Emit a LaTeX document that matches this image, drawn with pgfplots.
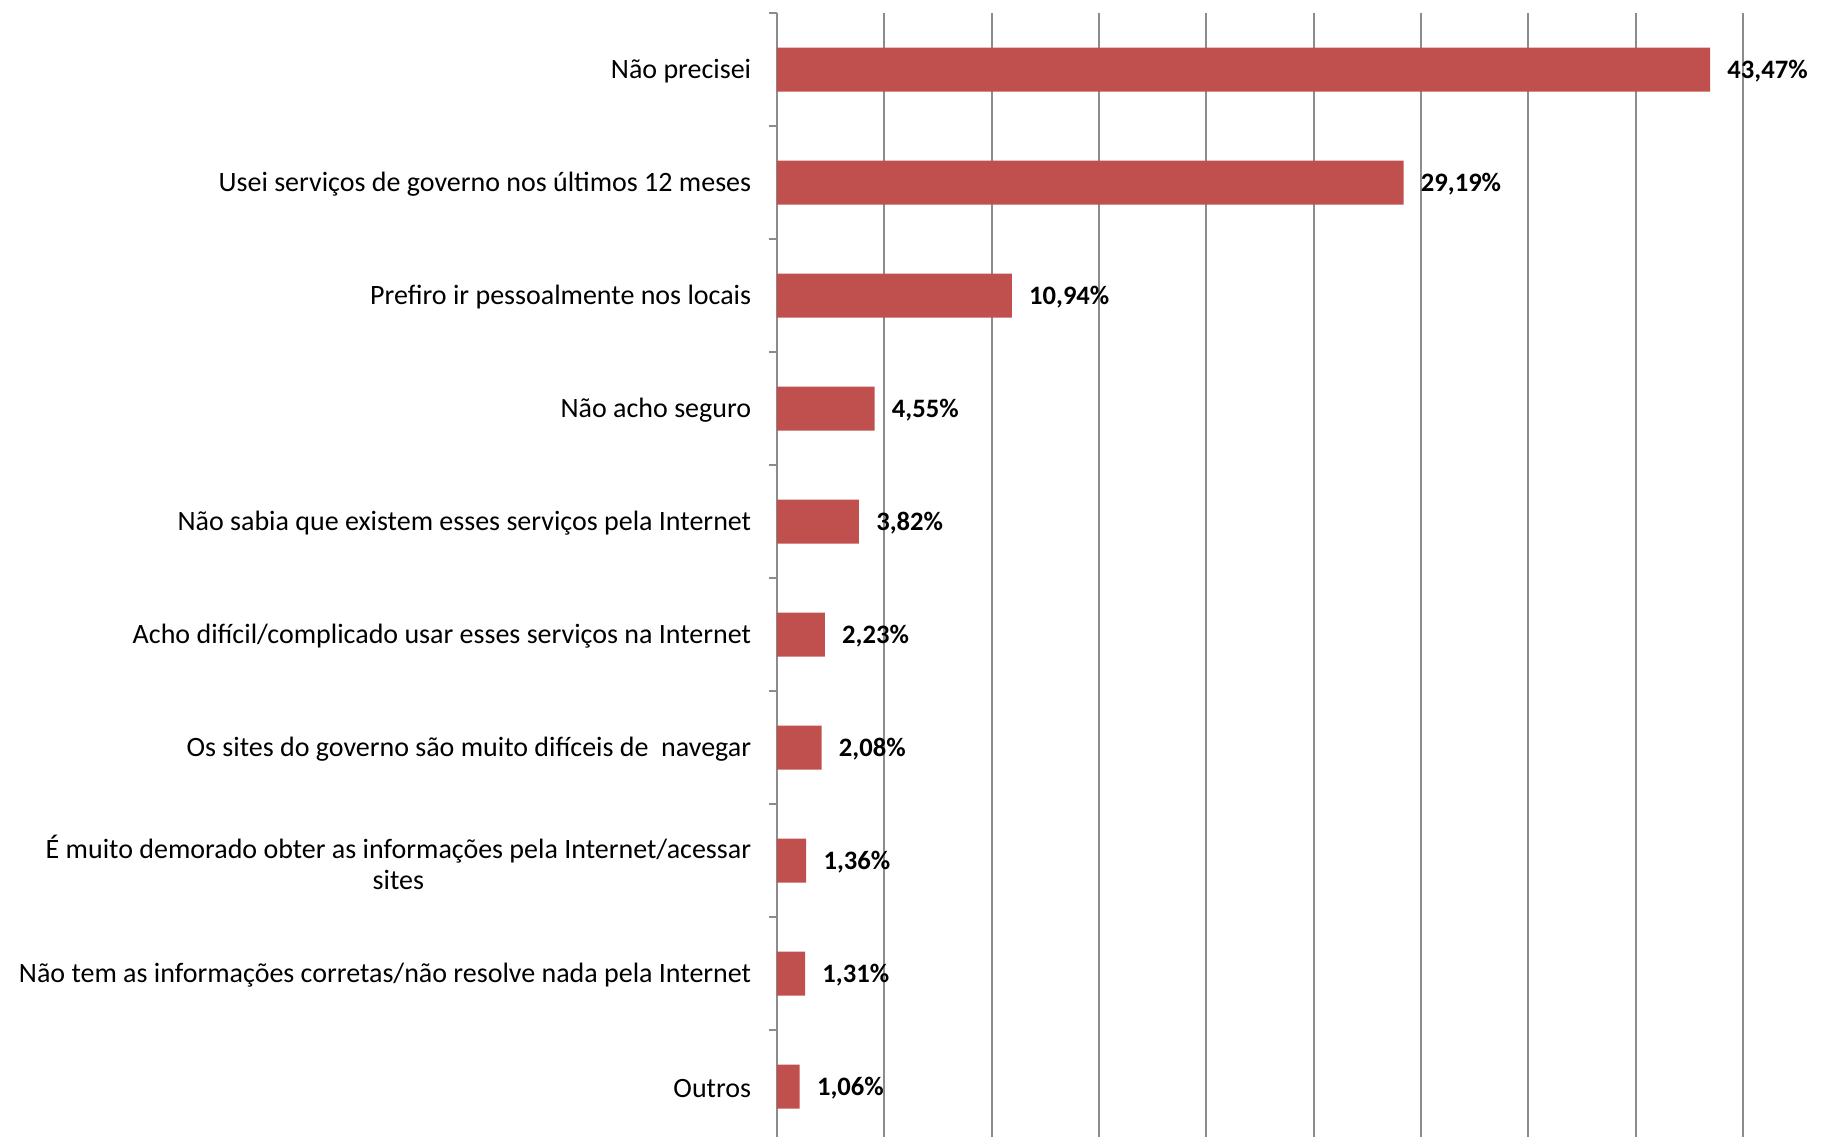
\documentclass[border=0pt]{standalone}
\usepackage{pgfplots}
\pgfplotsset{compat=1.18}
\usepackage{fontspec}
\setmainfont{Carlito}
\definecolor{barred}{RGB}{192,80,77}
\definecolor{gridgray}{RGB}{140,140,140}

\begin{document}
\fontsize{14}{16}\selectfont
\begin{tikzpicture}
\useasboundingbox (-388.5pt,0) rectangle (529.5pt,568.5pt);
\begin{axis}[
    at={(0,0)}, anchor=south west,
    scale only axis,
    width=483pt, height=562pt,
    xbar, bar width=22pt, bar shift=0pt,
    xmin=0, xmax=45,
    ymin=-0.5, ymax=9.447,
    y dir=reverse,
    axis lines=left,
    axis line style={draw=none},
    xtick={0,5,...,45},
    xticklabels={},
    major x tick style={draw=none},
    xmajorgrids,
    grid style={gridgray, line width=1pt},
    ytick={0,...,9},
    yticklabels={
        Não precisei,
        Usei serviços de governo nos últimos 12 meses,
        Prefiro ir pessoalmente nos locais,
        Não acho seguro,
        Não sabia que existem esses serviços pela Internet,
        Acho difícil/complicado usar esses serviços na Internet,
        Os sites do governo são muito difíceis de~ navegar,
        {É muito demorado obter as informações pela Internet/acessar\\sites},
        Não tem as informações corretas/não resolve nada pela Internet,
        Outros},
    yticklabel style={align=center, font=\fontsize{14}{15.8}\selectfont, xshift=-3.8pt, yshift=-1pt},
    major y tick style={draw=none},
    minor ytick={-0.5,0.5,...,9.5},
    minor y tick style={gridgray, line width=1pt},
    tick align=outside,
    minor tick length=4pt,
    point meta=x,
    nodes near coords={\textbf{\pgfmathprintnumber[fixed,fixed zerofill,precision=2,use comma,assume math mode=true]{\pgfplotspointmeta}\%}},
    every node near coord/.append style={anchor=west, xshift=3.8pt, yshift=-1pt, font=\fontsize{13.3}{15}\selectfont},
    clip=false,
]
\addplot[fill=barred, draw=none] coordinates {
    (43.47,0)
    (29.19,1)
    (10.94,2)
    (4.55,3)
    (3.82,4)
    (2.23,5)
    (2.08,6)
    (1.36,7)
    (1.31,8)
    (1.06,9)
};
\end{axis}
\end{tikzpicture}
\end{document}
